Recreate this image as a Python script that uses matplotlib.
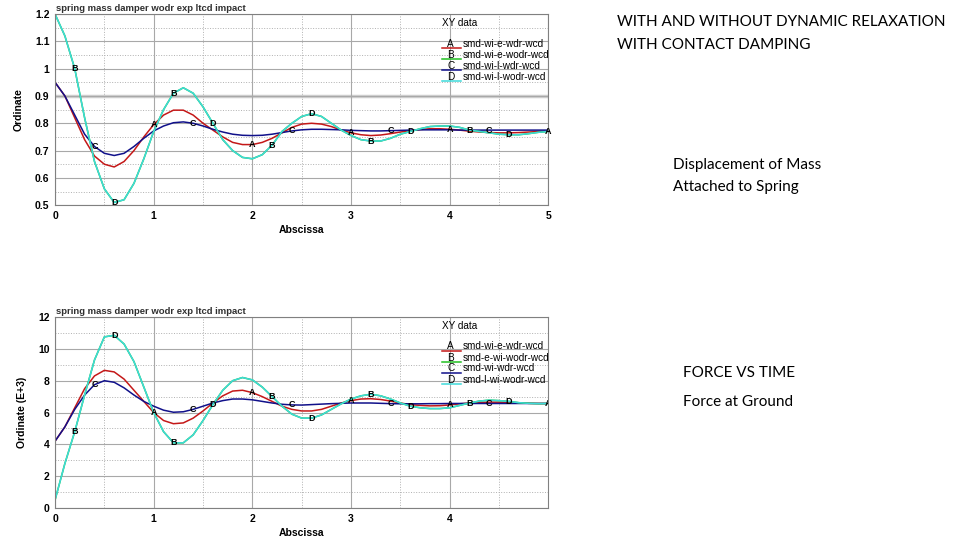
import numpy as np
import matplotlib.pyplot as plt

# time axis shared by all curves
t = np.round(np.arange(0, 5.01, 0.1), 1)

# displacement (top chart)
disp_a = [0.95, 0.90, 0.82, 0.74, 0.68, 0.65, 0.64, 0.66, 0.70, 0.75,
          0.795, 0.83, 0.848, 0.848, 0.83, 0.80, 0.775, 0.75, 0.73, 0.722,
          0.722, 0.73, 0.745, 0.765, 0.785, 0.797, 0.80, 0.797, 0.788, 0.775,
          0.765, 0.758, 0.755, 0.757, 0.762, 0.768, 0.773, 0.777, 0.78, 0.78,
          0.778, 0.775, 0.771, 0.768, 0.766, 0.765, 0.765, 0.766, 0.768, 0.77, 0.771]
disp_c = [0.95, 0.90, 0.83, 0.76, 0.715, 0.69, 0.682, 0.69, 0.715, 0.745,
          0.772, 0.79, 0.802, 0.805, 0.80, 0.79, 0.778, 0.768, 0.76, 0.756,
          0.755, 0.756, 0.76, 0.766, 0.772, 0.776, 0.778, 0.778, 0.777, 0.776,
          0.774, 0.773, 0.772, 0.772, 0.773, 0.774, 0.775, 0.776, 0.776, 0.776,
          0.776, 0.775, 0.775, 0.775, 0.775, 0.775, 0.775, 0.775, 0.775, 0.775, 0.775]
disp_d = [1.20, 1.12, 1.00, 0.82, 0.66, 0.56, 0.51, 0.52, 0.58, 0.67,
          0.77, 0.85, 0.91, 0.93, 0.91, 0.86, 0.80, 0.74, 0.70, 0.675,
          0.67, 0.685, 0.72, 0.77, 0.80, 0.825, 0.835, 0.825, 0.80, 0.775,
          0.755, 0.74, 0.735, 0.735, 0.745, 0.76, 0.77, 0.78, 0.788, 0.79,
          0.79, 0.785, 0.775, 0.77, 0.765, 0.76, 0.758, 0.758, 0.762, 0.767, 0.77]
disp_b = list(disp_d)  # green curve sits under the cyan one

# force at ground (bottom chart, E+3)
force_a = [4.2, 5.1, 6.3, 7.5, 8.3, 8.65, 8.55, 8.1, 7.4, 6.7,
           6.0, 5.5, 5.3, 5.35, 5.65, 6.1, 6.6, 7.05, 7.35, 7.4,
           7.25, 7.0, 6.7, 6.4, 6.2, 6.1, 6.1, 6.2, 6.4, 6.6,
           6.75, 6.85, 6.87, 6.82, 6.72, 6.6, 6.5, 6.45, 6.42, 6.43,
           6.48, 6.55, 6.6, 6.63, 6.65, 6.65, 6.62, 6.6, 6.58, 6.57, 6.57]
force_c = [4.2, 5.1, 6.2, 7.1, 7.75, 8.0, 7.9, 7.55, 7.1, 6.7,
           6.4, 6.15, 6.02, 6.05, 6.2, 6.4, 6.6, 6.75, 6.85, 6.85,
           6.8, 6.7, 6.6, 6.52, 6.48, 6.47, 6.5, 6.53, 6.56, 6.58,
           6.6, 6.6, 6.6, 6.58, 6.56, 6.55, 6.55, 6.55, 6.56, 6.56,
           6.57, 6.57, 6.57, 6.57, 6.57, 6.57, 6.57, 6.57, 6.57, 6.57, 6.57]
force_d = [0.5, 2.8, 4.8, 7.1, 9.3, 10.75, 10.85, 10.3, 9.2, 7.6,
           6.0, 4.8, 4.1, 4.1, 4.6, 5.5, 6.5, 7.4, 8.0, 8.2,
           8.05, 7.6, 7.0, 6.4, 5.9, 5.65, 5.65, 5.85, 6.2, 6.55,
           6.85, 7.05, 7.15, 7.05, 6.85, 6.6, 6.4, 6.3, 6.25, 6.25,
           6.3, 6.45, 6.6, 6.72, 6.78, 6.75, 6.7, 6.62, 6.58, 6.56, 6.57]
force_b = list(force_d)

letters = ["A", "B", "C", "D"]
colors = ["#c41818", "#22c022", "#10108a", "#3ddada"]
top_names = ["smd-wi-e-wdr-wcd", "smd-wi-e-wodr-wcd", "smd-wi-l-wdr-wcd", "smd-wi-l-wodr-wcd"]
bot_names = ["smd-wi-e-wdr-wcd", "smd-e-wi-wodr-wcd", "smd-wi-wdr-wcd", "smd-l-wi-wodr-wcd"]
title = "spring mass damper wodr exp ltcd impact"

plt.rcParams["font.family"] = "Liberation Sans"
fig = plt.figure(figsize=(9.6, 5.4), dpi=100)


def draw(ax, series, names, ylim, ymin, yticks, yticklabels, ylabel, xticks, clip):
    ax.set_xlim(0, 5)
    ax.set_ylim(*ylim)
    ax.set_xticks(np.arange(0, 5.01, 0.5), minor=True)
    ax.set_yticks(np.arange(ylim[0], ylim[1] + 1e-9, ymin), minor=True)
    ax.set_xticks(xticks)
    ax.set_yticks(yticks)
    ax.set_yticklabels(yticklabels)
    ax.grid(which="major", color="#a8a8a8", lw=0.8)
    ax.grid(which="minor", color="#b0b0b0", lw=0.7, ls=":")
    for s in ax.spines.values():
        s.set_color("#808080")
    ax.tick_params(which="both", length=0, labelsize=7.5, pad=4)
    for lab in ax.get_xticklabels() + ax.get_yticklabels():
        lab.set_fontweight("bold")
    # draw order: A, C, B, D so cyan covers green
    for i in [0, 2, 1, 3]:
        ax.plot(t, series[i], color=colors[i], lw=1.1)
    # letter markers along curves
    for i, L in enumerate(letters):
        xs = np.arange(0.2 * i, 5.01, 1.0) if i > 0 else np.arange(1.0, 5.01, 1.0)
        for xv in xs:
            yv = np.interp(xv, t, series[i])
            ax.text(xv, yv, L, fontsize=6.5, fontweight="bold", ha="center",
                    va="center", clip_on=clip)
    ax.text(0.003, 1.005, title, transform=ax.transAxes, fontsize=6.8,
            fontweight="bold", color="#303030", va="bottom")
    ax.set_ylabel(ylabel, fontsize=7.5, fontweight="bold", labelpad=8)
    ax.set_xlabel("Abscissa", fontsize=7.5, fontweight="bold", labelpad=3)
    # legend block
    ax.text(0.785, 0.954, "XY data", transform=ax.transAxes, fontsize=7.2, va="center")
    rows = [0.822, 0.764, 0.707, 0.649]
    for i in range(4):
        ax.plot([0.785, 0.822], [rows[i], rows[i]], color=colors[i], lw=1.1,
                transform=ax.transAxes, clip_on=False)
        ax.text(0.802, rows[i] + 0.008, letters[i], transform=ax.transAxes,
                fontsize=7.2, ha="center", va="baseline")
        ax.text(0.826, rows[i] + 0.008, names[i], transform=ax.transAxes,
                fontsize=7.2, va="baseline", clip_on=False)


ax1 = fig.add_axes([0.0573, 0.620, 0.514, 0.354])
draw(ax1, [disp_a, disp_b, disp_c, disp_d], top_names, (0.5, 1.2), 0.05,
     [0.5, 0.6, 0.7, 0.8, 0.9, 1.0, 1.1, 1.2],
     ["0.5", "0.6", "0.7", "0.8", "0.9", "1", "1.1", "1.2"],
     "Ordinate", [0, 1, 2, 3, 4, 5], False)
ax1.axhline(0.9, color="#d0d0d0", lw=2.5, zorder=0.5)

ax2 = fig.add_axes([0.0573, 0.059, 0.514, 0.354])
draw(ax2, [force_a, force_b, force_c, force_d], bot_names, (0, 12), 1,
     [0, 2, 4, 6, 8, 10, 12], ["0", "2", "4", "6", "8", "10", "12"],
     "Ordinate (E+3)", [0, 1, 2, 3, 4], True)

side = dict(fontsize=11, family="Lato", va="center")
fig.text(617 / 960, 1 - 22 / 540, "WITH AND WITHOUT DYNAMIC RELAXATION", **side)
fig.text(617 / 960, 1 - 45 / 540, "WITH CONTACT DAMPING", **side)
fig.text(673 / 960, 1 - 165 / 540, "Displacement of Mass", **side)
fig.text(673 / 960, 1 - 187 / 540, "Attached to Spring", **side)
fig.text(683 / 960, 1 - 373 / 540, "FORCE VS TIME", **side)
fig.text(683 / 960, 1 - 402 / 540, "Force at Ground", **side)

fig.savefig("out.png", dpi=100)
